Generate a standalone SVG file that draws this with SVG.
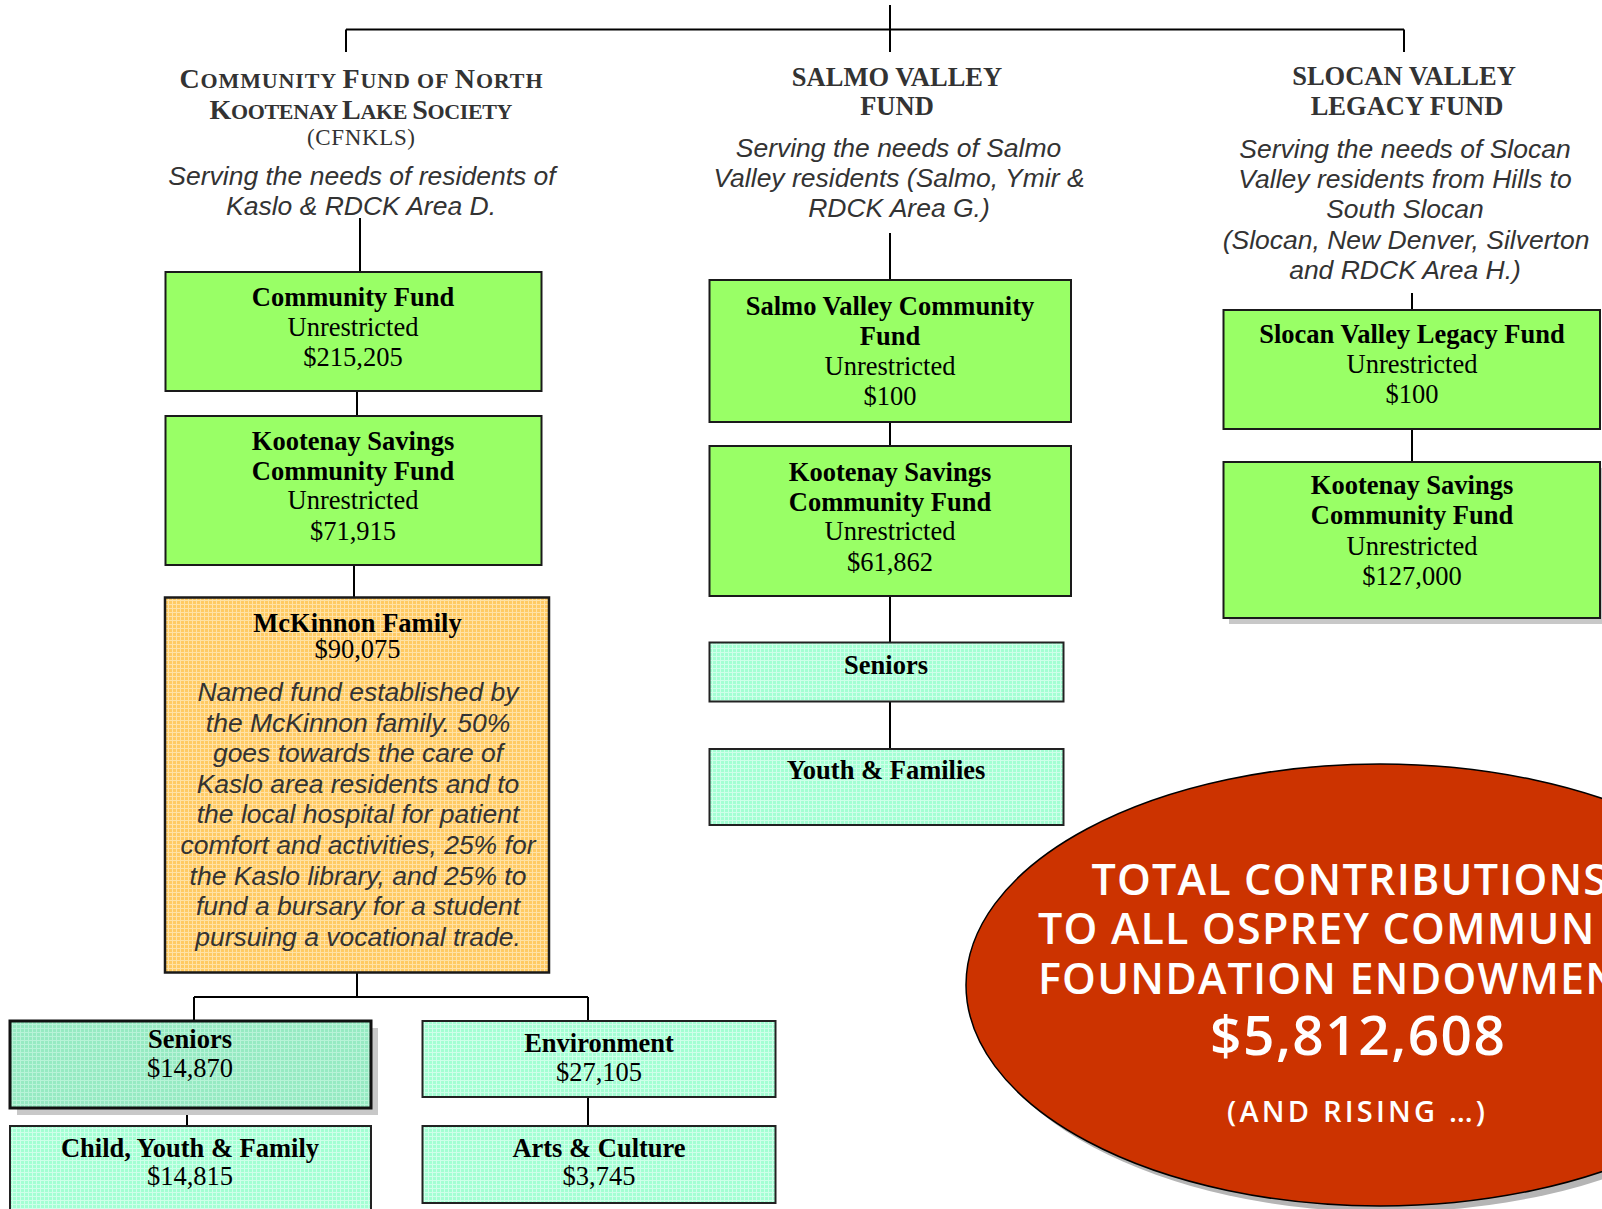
<svg xmlns="http://www.w3.org/2000/svg" width="1602" height="1209" viewBox="0 0 1602 1209">
<style>
.hd{font-family:"Liberation Serif","Times New Roman",serif;font-weight:bold;fill:#333;text-anchor:middle}
.hn{font-family:"Liberation Serif","Times New Roman",serif;font-weight:normal;fill:#333;text-anchor:middle}
.it{font-family:"Liberation Sans",Arial,sans-serif;font-style:italic;font-size:26.5px;fill:#333;text-anchor:middle}
.bt{font-family:"Liberation Serif","Times New Roman",serif;font-size:26.5px;fill:#000;text-anchor:middle}
.b{font-weight:bold}
.gr{fill:#99FF66;stroke:#1a1a1a;stroke-width:2}
.tl{fill:url(#pTeal);stroke:#222;stroke-width:2}
.sh{fill:#C8C8C8}
.cn{stroke:#000;stroke-width:2;fill:none}
.el{font-family:"Open Sans","DejaVu Sans",sans-serif;font-weight:600;fill:#fff}
</style>
<defs>
<pattern id="pTeal" width="4" height="4" patternUnits="userSpaceOnUse"><rect width="4" height="4" fill="#A3FFD3"/><path d="M0 0.5H4M0.5 0V4" stroke="#CFFFEA" stroke-width="1"/></pattern>
<pattern id="pTeal2" width="4" height="4" patternUnits="userSpaceOnUse"><rect width="4" height="4" fill="#96EAC2"/><path d="M0 0.5H4M0.5 0V4" stroke="#B8F3D8" stroke-width="1"/></pattern>
<pattern id="pOr" width="4" height="4" patternUnits="userSpaceOnUse"><rect width="4" height="4" fill="#FFCA63"/><path d="M0 0.5H4M0.5 0V4" stroke="#FFE2A6" stroke-width="1"/></pattern>
</defs>
<rect width="1602" height="1209" fill="#fff"/>

<g id="connectors">
<path class="cn" d="M346 29.5H1404M890 5V52M346 29.5V52M1404 29.5V52"/>
<path class="cn" d="M360 218V272M357 391V416M354 565V598M357 973V997M194 997H588M194 997V1021M588 997V1021M187 1108V1126M588 1097V1126"/>
<path class="cn" d="M890 233V280M890 422V446M890 596V643M890 701V749"/>
<path class="cn" d="M1412 293V310M1412 429V462"/>
</g>

<g id="cfnkls-heading">
<text class="hd" x="361" y="87.5" textLength="363" lengthAdjust="spacing"><tspan font-size="28">C</tspan><tspan font-size="22">OMMUNITY </tspan><tspan font-size="28">F</tspan><tspan font-size="22">UND OF </tspan><tspan font-size="28">N</tspan><tspan font-size="22">ORTH</tspan></text>
<text class="hd" x="361" y="118.5" textLength="303" lengthAdjust="spacing"><tspan font-size="28">K</tspan><tspan font-size="22">OOTENAY </tspan><tspan font-size="28">L</tspan><tspan font-size="22">AKE </tspan><tspan font-size="28">S</tspan><tspan font-size="22">OCIETY</tspan></text>
<text class="hn" x="361" y="145" font-size="23" textLength="108" lengthAdjust="spacing">(CFNKLS)</text>
<text class="it" x="362" y="185">Serving the needs of residents of</text>
<text class="it" x="361" y="215">Kaslo &amp; RDCK Area D.</text>
</g>

<g id="salmo-heading">
<text class="hd" x="897" y="86" font-size="26.5">SALMO VALLEY</text>
<text class="hd" x="897" y="115" font-size="26.5">FUND</text>
<text class="it" x="898.5" y="157">Serving the needs of Salmo</text>
<text class="it" x="899" y="187">Valley residents (Salmo, Ymir &amp;</text>
<text class="it" x="899" y="217">RDCK Area G.)</text>
</g>

<g id="slocan-heading">
<text class="hd" x="1404" y="85" font-size="26.5">SLOCAN VALLEY</text>
<text class="hd" x="1407" y="115" font-size="26.5">LEGACY FUND</text>
<text class="it" x="1405" y="158">Serving the needs of Slocan</text>
<text class="it" x="1405" y="188">Valley residents from Hills to</text>
<text class="it" x="1405" y="218">South Slocan</text>
<text class="it" x="1406" y="248.5">(Slocan, New Denver, Silverton</text>
<text class="it" x="1405" y="278.5">and RDCK Area H.)</text>
</g>

<g id="cf-community-fund">
<rect class="gr" x="165.5" y="272" width="376" height="119"/>
<text class="bt b" x="353" y="305.5">Community Fund</text>
<text class="bt" x="353" y="335.5">Unrestricted</text>
<text class="bt" x="353" y="365.5">$215,205</text>
</g>

<g id="cf-kootenay-savings">
<rect class="gr" x="165.5" y="416" width="376" height="149"/>
<text class="bt b" x="353" y="450">Kootenay Savings</text>
<text class="bt b" x="353" y="479.5">Community Fund</text>
<text class="bt" x="353" y="509">Unrestricted</text>
<text class="bt" x="353" y="539.5">$71,915</text>
</g>

<g id="mckinnon">
<rect x="165" y="597.5" width="384" height="375" fill="url(#pOr)" stroke="#1a1a1a" stroke-width="2.5"/>
<text class="bt b" x="357.5" y="632" font-size="26">McKinnon Family</text>
<text class="bt" x="357.5" y="658" font-size="23.5" fill="#333">$90,075</text>
<text class="it" x="358" y="701" fill="#111">Named fund established by</text>
<text class="it" x="358" y="731.6" fill="#111">the McKinnon family. 50%</text>
<text class="it" x="358" y="762.2" fill="#111">goes towards the care of</text>
<text class="it" x="358" y="792.8" fill="#111">Kaslo area residents and to</text>
<text class="it" x="358" y="823.4" fill="#111">the local hospital for patient</text>
<text class="it" x="358" y="854" fill="#111">comfort and activities, 25% for</text>
<text class="it" x="358" y="884.6" fill="#111">the Kaslo library, and 25% to</text>
<text class="it" x="358" y="915.2" fill="#111">fund a bursary for a student</text>
<text class="it" x="358" y="945.8" fill="#111">pursuing a vocational trade.</text>
</g>

<g id="cf-seniors">
<rect class="sh" x="17" y="1028" width="361" height="87"/>
<rect x="10" y="1021" width="361" height="87" fill="url(#pTeal2)" stroke="#111" stroke-width="3"/>
<text class="bt b" x="190" y="1048">Seniors</text>
<text class="bt" x="190" y="1077">$14,870</text>
</g>

<g id="cf-child-youth-family">
<rect class="tl" x="10" y="1126" width="361" height="95"/>
<text class="bt b" x="190" y="1157">Child, Youth &amp; Family</text>
<text class="bt" x="190" y="1185">$14,815</text>
</g>

<g id="cf-environment">
<rect class="tl" x="422.5" y="1021" width="353" height="76"/>
<text class="bt b" x="599" y="1052">Environment</text>
<text class="bt" x="599" y="1080.5">$27,105</text>
</g>

<g id="cf-arts-culture">
<rect class="tl" x="422.5" y="1126" width="353" height="77"/>
<text class="bt b" x="599" y="1157">Arts &amp; Culture</text>
<text class="bt" x="599" y="1185">$3,745</text>
</g>

<g id="salmo-community-fund">
<rect class="gr" x="709.5" y="280" width="361.5" height="142"/>
<text class="bt b" x="890" y="314.5">Salmo Valley Community</text>
<text class="bt b" x="890" y="344.5">Fund</text>
<text class="bt" x="890" y="374.5">Unrestricted</text>
<text class="bt" x="890" y="405">$100</text>
</g>

<g id="salmo-kootenay-savings">
<rect class="gr" x="709.5" y="446" width="361.5" height="150"/>
<text class="bt b" x="890" y="481">Kootenay Savings</text>
<text class="bt b" x="890" y="511">Community Fund</text>
<text class="bt" x="890" y="540">Unrestricted</text>
<text class="bt" x="890" y="570.5">$61,862</text>
</g>

<g id="salmo-seniors">
<rect class="tl" x="709.5" y="642.5" width="354" height="59"/>
<text class="bt b" x="886" y="674">Seniors</text>
</g>

<g id="salmo-youth-families">
<rect class="tl" x="709.5" y="749" width="354" height="76"/>
<text class="bt b" x="886" y="779">Youth &amp; Families</text>
</g>

<g id="slocan-legacy-fund">
<rect class="gr" x="1223.5" y="310" width="376.5" height="119"/>
<text class="bt b" x="1412" y="343">Slocan Valley Legacy Fund</text>
<text class="bt" x="1412" y="373">Unrestricted</text>
<text class="bt" x="1412" y="403">$100</text>
</g>

<g id="slocan-kootenay-savings">
<rect class="sh" x="1229" y="468" width="380" height="156"/>
<rect class="gr" x="1223.5" y="462" width="376.5" height="156"/>
<text class="bt b" x="1412" y="493.5">Kootenay Savings</text>
<text class="bt b" x="1412" y="524">Community Fund</text>
<text class="bt" x="1412" y="554.5">Unrestricted</text>
<text class="bt" x="1412" y="585">$127,000</text>
</g>

<g id="total">
<ellipse cx="1386" cy="991" rx="414" ry="221" fill="#B5B5B5"/>
<ellipse cx="1380" cy="985" rx="414" ry="221" fill="#CC3300" stroke="#000" stroke-width="1.5"/>
<text class="el" font-size="43" letter-spacing="1.2"><tspan x="1091.5" y="895">TOTAL CONTRIBUTIONS</tspan><tspan x="1038" y="944">TO ALL OSPREY COMMUN</tspan><tspan x="1038" y="994">FOUNDATION ENDOWMEN</tspan></text>
<text class="el" x="1357.5" y="1055" font-size="55" text-anchor="middle" textLength="295" lengthAdjust="spacing">$5,812,608</text>
<text class="el" x="1356" y="1122" font-size="29" text-anchor="middle" textLength="258" lengthAdjust="spacing">(AND RISING …)</text>
</g>
</svg>
